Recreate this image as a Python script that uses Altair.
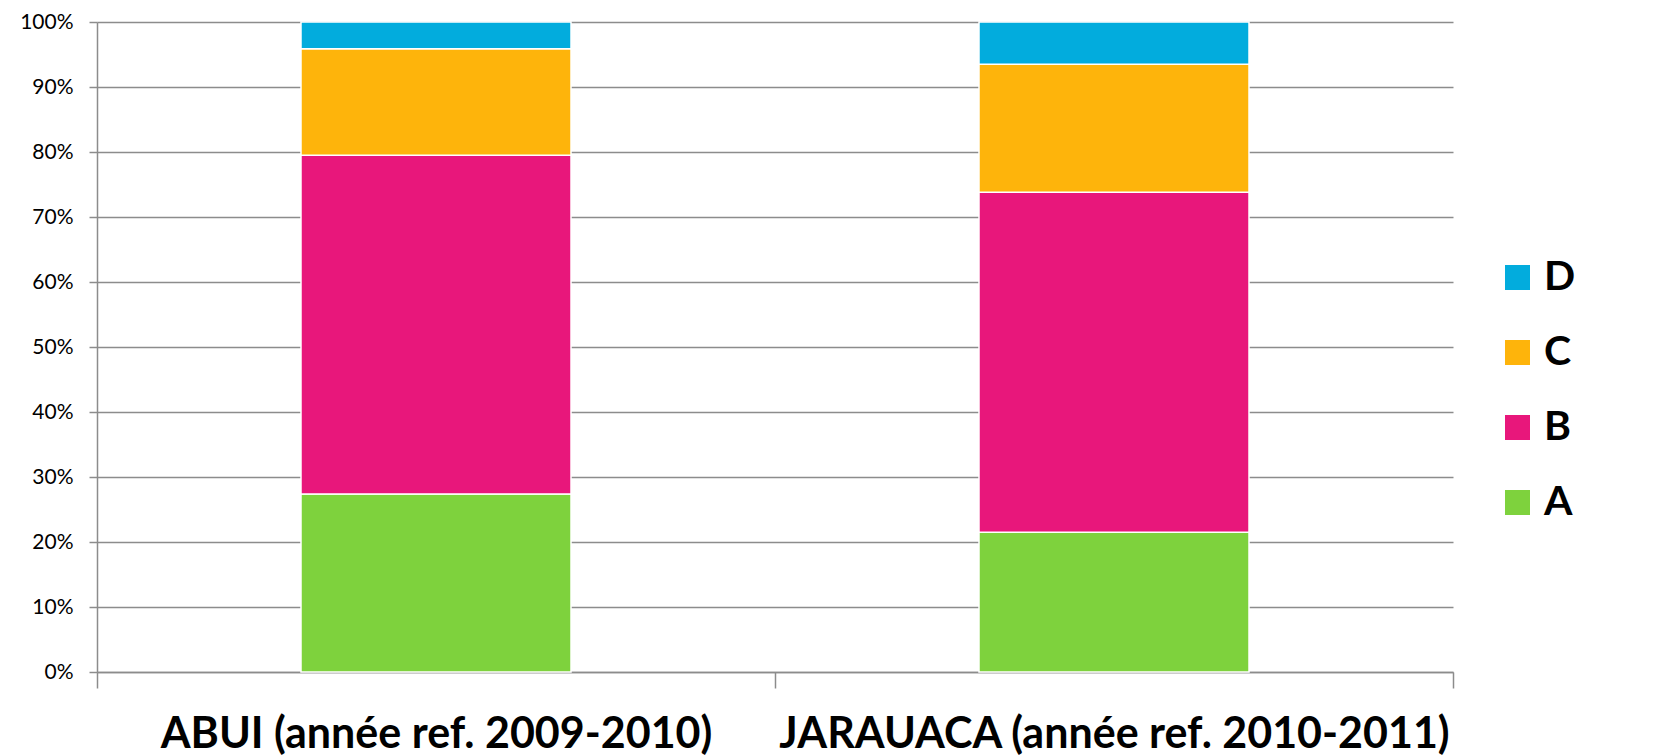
import altair as alt
import pandas as pd

categories = ["ABUI (année ref. 2009-2010)", "JARAUACA (année ref. 2010-2011)"]
series = ["A", "B", "C", "D"]
vals_A = [27.4, 21.5]
vals_B = [52.1, 52.3]
vals_C = [16.4, 19.7]
vals_D = [4.1, 6.5]
colors = {"A": "#7ED23D", "B": "#E8177B", "C": "#FEB40B", "D": "#02ACDD"}
y_ticks = [i / 10 for i in range(11)]

rows = []
for s, vals in zip(series, [vals_A, vals_B, vals_C, vals_D]):
    for c, v in zip(categories, vals):
        rows.append({"cat": c, "serie": s, "value": v / 100, "ord": series.index(s)})
df = pd.DataFrame(rows)

legend_order = ["D", "C", "B", "A"]

chart = alt.Chart(df).mark_bar(size=270, stroke="white", strokeWidth=1.5).encode(
    x=alt.X("cat:N", sort=categories,
            scale=alt.Scale(paddingInner=0, paddingOuter=0),
            axis=alt.Axis(title=None, tickBand="extent", labelAngle=0, labelLimit=0,
                          labelFont="Lato", labelFontWeight="bold", labelFontSize=43,
                          labelColor="black", labelBaseline="alphabetic",
                          labelPadding=59, tickSize=16, tickColor="#8c8c8c",
                          tickWidth=1.5, domainColor="#8c8c8c", domainWidth=1.5,
                          grid=False)),
    y=alt.Y("value:Q", stack="zero",
            scale=alt.Scale(domain=[0, 1], nice=False),
            axis=alt.Axis(title=None, values=y_ticks, format=".0%",
                          labelFont="Lato", labelFontSize=21, labelColor="black",
                          labelPadding=16, tickSize=8, tickColor="#8c8c8c",
                          tickWidth=1.5, domainColor="#8c8c8c", domainWidth=1.5,
                          gridColor="#8c8c8c", gridWidth=1.5)),
    color=alt.Color("serie:N",
                    scale=alt.Scale(domain=legend_order,
                                    range=[colors[k] for k in legend_order]),
                    legend=alt.Legend(title=None, orient="none", legendX=1400, legendY=235,
                                      symbolType="square", symbolSize=625,
                                      symbolStrokeWidth=0, labelFont="Lato",
                                      labelFontWeight="bold", labelFontSize=41,
                                      labelColor="black", labelOffset=6,
                                      rowPadding=33)),
    order=alt.Order("ord:Q", sort="ascending"),
).properties(
    width=1356, height=650,
    autosize=alt.AutoSizeParams(type="none"),
    padding={"left": 89, "top": 14, "right": 200, "bottom": 90},
).configure_view(stroke=None)

chart.save("out.html", embed_options={"renderer": "svg", "actions": False})
